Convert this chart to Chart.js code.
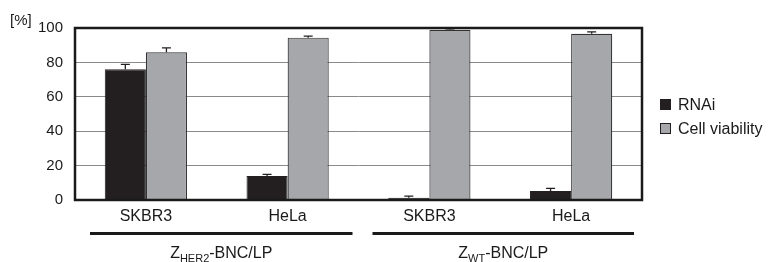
<!DOCTYPE html>
<html><head><meta charset="utf-8">
<script src="https://cdn.jsdelivr.net/npm/chart.js@4"></script>
<style>html,body{margin:0;padding:0;background:#fff}#wrap{width:769px;height:262px}</style>
</head><body><div id="wrap"><canvas id="c"></canvas></div>
<script>
const categories = ['SKBR3', 'HeLa', 'SKBR3', 'HeLa'];
const rnaiValues = [76, 13.9, 1.3, 5.2];
const rnaiErrors = [2.9, 1.0, 0.9, 1.6];
const viabilityValues = [85.9, 94.4, 99, 96.6];
const viabilityErrors = [2.6, 0.9, 0.5, 1.2];
const yTicks = [0, 20, 40, 60, 80, 100];
const groups = [
  {main: 'Z', sub: 'HER2', rest: '-BNC/LP', from: 0, to: 1},
  {main: 'Z', sub: 'WT', rest: '-BNC/LP', from: 2, to: 3}
];
const FONT = '"Liberation Sans", Arial, sans-serif';

const decor = {
  id: 'decor',
  afterDatasetsDraw(chart) {
    const ctx = chart.ctx, a = chart.chartArea, y = chart.scales.y;
    ctx.save();
    ctx.strokeStyle = '#231f20';
    ctx.lineWidth = 1.3;
    const errs = [rnaiErrors, viabilityErrors];
    chart.data.datasets.forEach((ds, di) => {
      const meta = chart.getDatasetMeta(di);
      meta.data.forEach((bar, i) => {
        const top = y.getPixelForValue(ds.data[i] + errs[di][i]);
        const base = y.getPixelForValue(ds.data[i]);
        ctx.beginPath();
        ctx.moveTo(bar.x, base); ctx.lineTo(bar.x, top);
        ctx.moveTo(bar.x - 4.5, top); ctx.lineTo(bar.x + 4.5, top);
        ctx.stroke();
      });
    });
    ctx.strokeStyle = '#1a1a1a';
    ctx.lineWidth = 2.5;
    ctx.strokeRect(a.left, a.top, a.right - a.left, a.bottom - a.top);
    ctx.restore();
  },
  afterDraw(chart) {
    const ctx = chart.ctx, x = chart.scales.x;
    ctx.save();
    ctx.fillStyle = '#1a1a1a';
    ctx.font = '15px ' + FONT;
    ctx.textBaseline = 'middle';
    ctx.fillText('[%]', 10, 21);
    const half = (x.getPixelForValue(1) - x.getPixelForValue(0)) / 2;
    groups.forEach((g, gi) => {
      const x0 = x.getPixelForValue(g.from) - half + (gi === 0 ? 15 : 14);
      const x1 = x.getPixelForValue(g.to) + half - (gi === 0 ? 6 : 8);
      ctx.fillRect(x0, 232, x1 - x0, 3);
      ctx.font = '16px ' + FONT;
      const w1 = ctx.measureText(g.main).width;
      const w3 = ctx.measureText(g.rest).width;
      ctx.font = '11px ' + FONT;
      const w2 = ctx.measureText(g.sub).width;
      const cx = (x0 + x1) / 2;
      let sx = cx - (w1 + w2 + w3) / 2;
      ctx.textBaseline = 'alphabetic';
      ctx.font = '16px ' + FONT;
      ctx.fillText(g.main, sx, 258);
      ctx.font = '11px ' + FONT;
      ctx.fillText(g.sub, sx + w1, 262);
      ctx.font = '16px ' + FONT;
      ctx.fillText(g.rest, sx + w1 + w2, 258);
    });
    ctx.textBaseline = 'middle';
    chart.data.datasets.forEach((ds, i) => {
      const cy = 104.5 + i * 24;
      ctx.fillStyle = ds.backgroundColor;
      ctx.fillRect(660, cy - 5.5, 11, 11);
      ctx.strokeStyle = '#231f20';
      ctx.lineWidth = 1;
      ctx.strokeRect(660.5, cy - 5, 10, 10);
      ctx.fillStyle = '#1a1a1a';
      ctx.font = '16px ' + FONT;
      ctx.fillText(ds.label, 678, cy + 1);
    });
    ctx.restore();
  }
};

new Chart(document.getElementById('c'), {
  type: 'bar',
  data: {
    labels: categories,
    datasets: [
      {label: 'RNAi', data: rnaiValues, backgroundColor: '#231f20', borderColor: '#231f20', borderWidth: 1, categoryPercentage: 0.58, barPercentage: 1},
      {label: 'Cell viability', data: viabilityValues, backgroundColor: '#a6a7aa', borderColor: '#333', borderWidth: 1.2, categoryPercentage: 0.58, barPercentage: 1}
    ]
  },
  options: {
    responsive: true,
    maintainAspectRatio: false,
    animation: false,
    layout: {padding: {top: 28, left: 0, right: 127, bottom: 0}},
    plugins: {legend: {display: false}, tooltip: {enabled: false}},
    scales: {
      x: {
        grid: {display: false, drawTicks: false},
        border: {display: false},
        ticks: {color: '#1a1a1a', font: {family: FONT, size: 16}, padding: 7},
        afterFit(s) { s.height = 62; }
      },
      y: {
        min: 0, max: 100,
        afterBuildTicks(s) { s.ticks = yTicks.map(v => ({value: v})); },
        grid: {color: ctx => (ctx.tick && (ctx.tick.value === 0 || ctx.tick.value === 100)) ? 'rgba(0,0,0,0)' : '#8a8a8a', lineWidth: 1, drawTicks: false},
        border: {display: false},
        ticks: {color: '#1a1a1a', font: {family: FONT, size: 15}, padding: 12},
        afterFit(s) { s.width = 75; }
      }
    }
  },
  plugins: [decor]
});
</script>
</body></html>
